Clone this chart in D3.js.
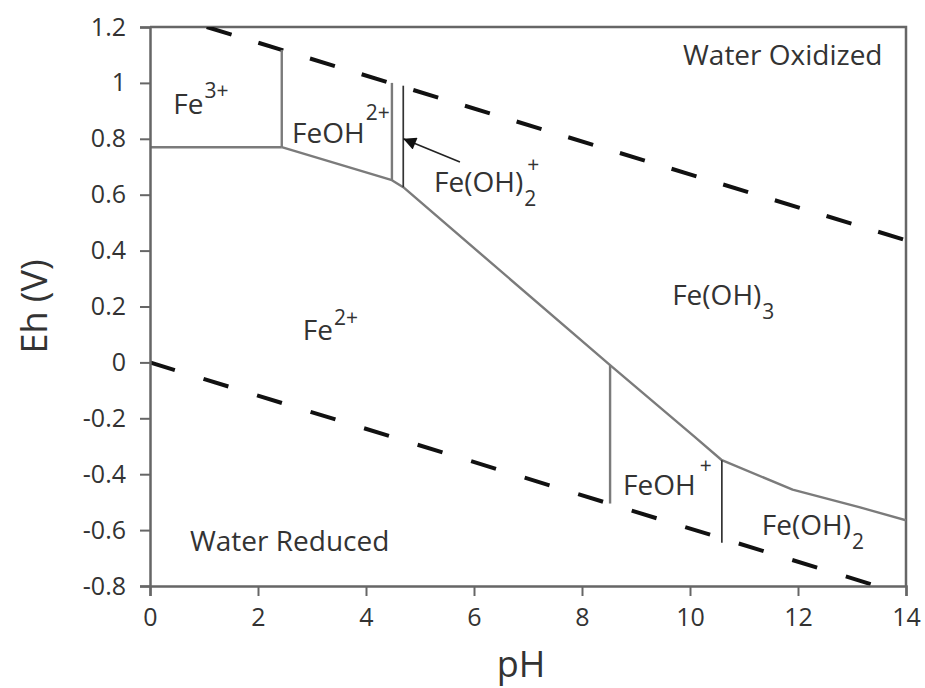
<!DOCTYPE html>
<html>
<head>
<meta charset="utf-8">
<script src="https://cdn.jsdelivr.net/npm/d3@7"></script>
<style>
  html, body { margin: 0; padding: 0; background: #fff; }
  svg { display: block; }
  text { font-family: "Open Sans", "DejaVu Sans", sans-serif; fill: #333; }
</style>
</head>
<body>
<svg id="chart" width="925" height="688"></svg>
<script>
// ---- data (pH, Eh in V) ----
const xTicks = [0, 2, 4, 6, 8, 10, 12, 14];
const xTickLabels = ["0", "2", "4", "6", "8", "10", "12", "14"];
const yTicks = [1.2, 1.0, 0.8, 0.6, 0.4, 0.2, 0, -0.2, -0.4, -0.6, -0.8];
const yTickLabels = ["1.2", "1", "0.8", "0.6", "0.4", "0.2", "0", "-0.2", "-0.4", "-0.6", "-0.8"];

// water stability limits (dashed)
const waterUpper = [[1.05, 1.2], [14, 0.437]];
const waterLower = [[0, 0], [13.46, -0.8]];

// Fe3+/Fe2+ horizontal and Fe(III)/Fe2+ boundary
const fe3Fe2 = [[0, 0.77], [2.44, 0.77]];
const mainBoundary = [[2.44, 0.77], [4.48, 0.652], [4.69, 0.627], [8.52, -0.01],
                      [10.06, -0.262], [10.59, -0.35], [11.9, -0.455], [13.15, -0.519], [14, -0.565]];

// vertical boundaries: pH, Eh bottom, Eh top, dark?
const verticals = [
  { pH: 2.44, lo: 0.77, hi: 1.118, dark: false },
  { pH: 4.48, lo: 0.652, hi: 1.0, dark: false },
  { pH: 4.69, lo: 0.627, hi: 0.99, dark: true },
  { pH: 8.52, lo: -0.505, hi: -0.01, dark: false },
  { pH: 10.59, lo: -0.645, hi: -0.35, dark: true }
];

// arrow: from -> to (pH, Eh)
const arrowFrom = [5.74, 0.717];
const arrowTo = [4.69, 0.80];

// field labels: main text, sup, sub, pH, Eh anchor (baseline, left)
const fieldLabels = [
  { t: "Fe", sup: "3+", sub: null, pH: 0.43, eh: 0.889, supRise: 16 },
  { t: "FeOH", sup: "2+", sub: null, pH: 2.63, eh: 0.785, supRise: 23 },
  { t: "Fe(OH)", sup: "+", sub: "2", pH: 5.26, eh: 0.609, supRise: 20 },
  { t: "Water Oxidized", sup: null, sub: null, pH: 9.87, eh: 1.064 },
  { t: "Fe(OH)", sup: null, sub: "3", pH: 9.67, eh: 0.205 },
  { t: "Fe", sup: "2+", sub: null, pH: 2.83, eh: 0.079, supRise: 15 },
  { t: "FeOH", sup: "+", sub: null, pH: 8.76, eh: -0.476, supRise: 22 },
  { t: "Fe(OH)", sup: null, sub: "2", pH: 11.33, eh: -0.619 },
  { t: "Water Reduced", sup: null, sub: null, pH: 0.74, eh: -0.673 }
];

// ---- layout ----
const W = 925, H = 688;
const margin = { top: 27, right: 19, bottom: 102, left: 150 };
const svg = d3.select("#chart");

const x = d3.scaleLinear().domain([0, 14]).range([margin.left, W - margin.right]);
const y = d3.scaleLinear().domain([-0.8, 1.2]).range([H - margin.bottom, margin.top]);

const axisColor = "#666";

// frame (top and right)
svg.append("path")
  .attr("d", `M${x(0)},${y(1.2)}H${x(14)}V${y(-0.8)}`)
  .attr("fill", "none").attr("stroke", axisColor).attr("stroke-width", 2.5);

// clip
svg.append("clipPath").attr("id", "plotclip")
  .append("rect").attr("x", x(0)).attr("y", y(1.2))
  .attr("width", x(14) - x(0)).attr("height", y(-0.8) - y(1.2));

const line = d3.line().x(d => x(d[0])).y(d => y(d[1]));
const g = svg.append("g").attr("clip-path", "url(#plotclip)");

// dashed water lines
g.append("path").datum(waterUpper).attr("d", line)
  .attr("fill", "none").attr("stroke", "#111").attr("stroke-width", 4)
  .attr("stroke-dasharray", "26,28");
g.append("path").datum(waterLower).attr("d", line)
  .attr("fill", "none").attr("stroke", "#111").attr("stroke-width", 4)
  .attr("stroke-dasharray", "26,30");

// solid boundaries
const solidColor = "#7b7b7b";
g.append("path").datum(fe3Fe2).attr("d", line)
  .attr("fill", "none").attr("stroke", solidColor).attr("stroke-width", 2.4);
g.append("path").datum(mainBoundary).attr("d", line)
  .attr("fill", "none").attr("stroke", solidColor).attr("stroke-width", 2.4)
  .attr("stroke-linejoin", "round");

g.selectAll("line.vert").data(verticals).enter().append("line")
  .attr("class", "vert")
  .attr("x1", d => x(d.pH)).attr("x2", d => x(d.pH))
  .attr("y1", d => y(d.lo)).attr("y2", d => y(d.hi))
  .attr("stroke", d => d.dark ? "#333" : solidColor)
  .attr("stroke-width", d => d.dark ? 1.7 : 2.4);

// arrow
svg.append("defs").append("marker")
  .attr("id", "arrowhead").attr("viewBox", "0 0 10 10")
  .attr("refX", 10).attr("refY", 5)
  .attr("markerWidth", 10).attr("markerHeight", 8).attr("markerUnits", "strokeWidth")
  .attr("orient", "auto")
  .append("path").attr("d", "M0,0L10,5L0,10z").attr("fill", "#111");
svg.append("line")
  .attr("x1", x(arrowFrom[0])).attr("y1", y(arrowFrom[1]))
  .attr("x2", x(arrowTo[0])).attr("y2", y(arrowTo[1]))
  .attr("stroke", "#222").attr("stroke-width", 1.6)
  .attr("marker-end", "url(#arrowhead)");

// axes
const xAxis = d3.axisBottom(x).tickValues(xTicks)
  .tickFormat((d, i) => xTickLabels[i]).tickSize(10).tickPadding(12);
const yAxis = d3.axisLeft(y).tickValues(yTicks)
  .tickFormat((d, i) => yTickLabels[i]).tickSize(10).tickPadding(14);

const gx = svg.append("g").attr("transform", `translate(0,${y(-0.8)})`).call(xAxis);
const gy = svg.append("g").attr("transform", `translate(${x(0)},0)`).call(yAxis);
[gx, gy].forEach(a => {
  a.select(".domain").attr("stroke", axisColor).attr("stroke-width", 2.5);
  a.selectAll(".tick line").attr("stroke", axisColor).attr("stroke-width", 2);
  a.selectAll(".tick text").attr("font-size", 25).attr("fill", "#333")
    .attr("font-family", "'Open Sans', sans-serif");
});

// axis titles
svg.append("text").attr("x", 521).attr("y", 677)
  .attr("text-anchor", "middle").attr("font-size", 36).text("pH");
svg.append("text")
  .attr("transform", `translate(47,${(y(1.2) + y(-0.8)) / 2}) rotate(-90)`)
  .attr("text-anchor", "middle").attr("font-size", 36).text("Eh (V)");

// field labels
const labelSize = 28;
fieldLabels.forEach(l => {
  const t = svg.append("text").attr("x", x(l.pH)).attr("y", y(l.eh))
    .attr("font-size", labelSize);
  t.append("tspan").text(l.t);
  const base = y(l.eh);
  const w = t.node().getComputedTextLength();
  if (l.sub) {
    svg.append("text").attr("x", x(l.pH) + w + 1).attr("y", base + 14)
      .attr("font-size", 21).text(l.sub);
  }
  if (l.sup) {
    svg.append("text").attr("x", x(l.pH) + w + (l.sup === "+" ? 4 : 1)).attr("y", base - l.supRise)
      .attr("font-size", 21).text(l.sup);
  }
});
</script>
</body>
</html>
